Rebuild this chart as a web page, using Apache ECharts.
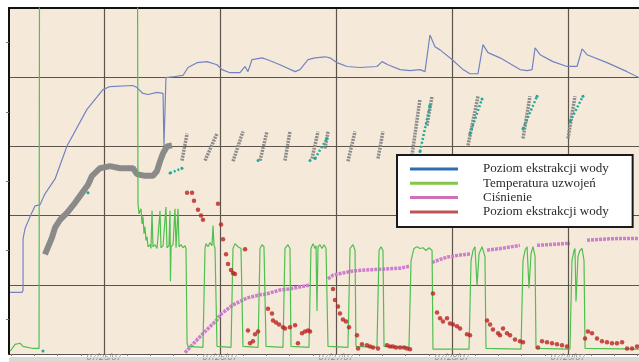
<!DOCTYPE html>
<html>
<head>
<meta charset="utf-8">
<script src="https://cdn.jsdelivr.net/npm/echarts@6.0.0/dist/echarts.min.js"></script>
<style>
  html, body { margin:0; padding:0; background:#ffffff; }
  #wrap { position:relative; width:639px; height:362px; overflow:hidden; }
  #band { position:absolute; left:9px; top:358px; width:630px; height:4px; background:#dcd9d3; }
  #strip { position:absolute; left:10px; top:356.5px; width:629px; height:1.5px; background:#dcd9d3; }
  #chart { position:absolute; left:0; top:0; width:639px; height:362px; }
</style>
</head>
<body>
<div id="wrap"><div id="band"></div><div id="chart"></div><div id="strip"></div></div>
<script>
// x values: days since 07/25/07 00:00; y values: % of axis range
const xTickDays = [0, 1, 2, 3, 4];
const xTickLabels = ['07/25/07', '07/26/07', '07/27/07', '07/28/07', '07/29/07'];
const xMinorTicks = [-0.8,-0.6,-0.4,-0.2,0.2,0.4,0.6,0.8,1.2,1.4,1.6,1.8,2.2,2.4,2.6,2.8,3.2,3.4,3.6,3.8,4.2,4.4,4.6];

const seriesNames = ['Poziom ekstrakcji wody', 'Temperatura uzwojeń', 'Ciśnienie', 'Poziom ekstrakcji wody '];

const blueLevel = [
  [-0.810,17.8],[-0.707,17.8],[-0.698,18.4],[-0.698,33.3],[-0.681,36.2],[-0.638,39.7],[-0.595,42.8],[-0.552,43.1],
  [-0.509,46.3],[-0.422,50.6],[-0.319,60.1],[-0.147,70.7],[-0.009,76.4],[0.052,77.3],[0.250,77.6],[0.284,77.0],
  [0.336,75.3],[0.379,75.0],[0.457,75.6],[0.509,75.3],[0.517,60.1],[0.534,79.9],[0.612,80.2],[0.681,80.5],
  [0.724,82.8],[0.802,84.2],[0.888,84.5],[0.974,83.6],[1.017,82.2],[1.086,81.3],[1.172,81.3],[1.216,83.1],
  [1.241,81.6],[1.276,85.1],[1.362,85.6],[1.405,85.1],[1.517,83.6],[1.647,81.6],[1.690,82.2],[1.759,85.1],
  [1.819,85.6],[1.905,85.9],[1.948,85.6],[2.009,84.2],[2.095,83.1],[2.207,82.8],[2.353,83.1],[2.397,84.5],
  [2.448,83.6],[2.552,82.2],[2.638,81.9],[2.724,82.2],[2.767,81.6],[2.810,92.2],[2.853,88.8],[2.897,87.9],
  [3.000,85.1],[3.095,82.2],[3.155,81.0],[3.224,81.0],[3.267,89.4],[3.310,87.1],[3.414,85.6],[3.586,82.2],
  [3.647,81.9],[3.690,82.2],[3.716,88.5],[3.759,86.5],[3.871,84.5],[3.991,83.1],[4.078,83.1],[4.121,88.2],
  [4.164,86.5],[4.336,84.2],[4.509,81.6],[4.612,79.9]
];

const greenTemp = [
  [-0.810,0.8],[-0.767,2.8],[-0.724,3.1],[-0.698,2.2],[-0.612,1.6],[-0.560,1.6],[-0.556,110],[0.289,110],
  [0.293,43.4],[0.302,40.5],[0.319,42.0],[0.328,37.6],[0.336,39.7],[0.345,34.8],[0.353,36.8],[0.362,32.8],
  [0.371,33.9],[0.379,31.0],[0.397,31.6],[0.405,30.5],[0.414,41.4],[0.422,31.0],[0.440,31.6],[0.457,30.5],
  [0.466,31.0],[0.483,41.4],[0.491,30.7],[0.509,31.3],[0.526,31.0],[0.534,42.5],[0.543,30.7],[0.560,31.3],
  [0.569,41.4],[0.573,21.0],[0.578,31.0],[0.595,31.6],[0.612,42.0],[0.621,30.7],[0.638,42.0],[0.647,31.0],
  [0.664,31.6],[0.681,30.7],[0.698,31.3],[0.707,30.5],[0.716,3.1],[0.724,2.2],[0.853,1.9],
  [0.871,30.5],[0.879,31.9],[0.897,31.0],[0.914,32.2],[0.931,31.3],[0.940,37.1],[0.948,31.6],[0.957,30.5],
  [0.974,2.2],[1.095,1.9],[1.112,30.5],[1.129,31.9],[1.155,31.0],[1.181,30.5],[1.198,2.2],[1.328,1.9],
  [1.345,30.5],[1.362,31.6],[1.379,31.0],[1.397,2.2],[1.543,1.9],[1.560,30.5],[1.586,31.6],[1.603,30.5],
  [1.612,2.2],[1.767,1.9],[1.784,30.5],[1.802,31.9],[1.819,30.5],[1.828,31.3],[1.836,12.4],[1.845,31.0],
  [1.862,31.6],[1.879,30.5],[1.897,31.6],[1.914,30.5],[1.931,2.2],[2.103,1.9],[2.121,30.5],[2.147,31.6],
  [2.164,29.9],[2.172,2.2],[2.353,1.9],[2.371,29.9],[2.388,31.0],[2.405,29.9],[2.414,2.2],[2.629,1.9],
  [2.647,27.0],[2.672,30.5],[2.698,31.0],[2.724,30.5],[2.750,30.7],[2.776,29.9],[2.802,30.7],[2.828,29.9],
  [2.836,1.4],[3.147,1.4],[3.164,27.0],[3.181,29.9],[3.198,31.0],[3.216,19.8],[3.233,29.0],[3.259,31.0],
  [3.284,28.2],[3.293,1.6],[3.595,1.4],[3.612,27.0],[3.629,29.9],[3.647,31.0],[3.664,19.0],[3.681,29.0],
  [3.698,31.0],[3.716,28.2],[3.724,1.6],[4.017,1.4],[4.034,27.0],[4.052,29.9],[4.060,30.5],[4.069,15.2],
  [4.086,28.2],[4.103,29.9],[4.121,30.5],[4.138,27.0],[4.147,1.6],[4.612,1.4]
];

const pinkPressure = [
  [0.698,0.4],[0.853,5.9],[0.974,9.9],[1.000,11.3],[1.112,14.2],[1.198,15.6],[1.233,16.2],[1.345,17.1],
  [1.405,17.4],[1.517,18.5],[1.603,18.8],[1.690,19.4],[1.776,19.9], null,
  [1.931,21.7],[1.974,22.8],[2.060,23.4],[2.147,24.0],[2.267,24.3],[2.405,24.5],[2.552,24.8],[2.638,25.4], null,
  [2.828,26.5],[2.957,28.0],[3.069,28.6],[3.155,28.9], null,
  [3.302,30.0],[3.440,30.6],[3.586,31.4], null,
  [3.733,31.4],[3.871,31.7],[4.017,32.0], null,
  [4.164,32.9],[4.302,33.2],[4.448,33.4],[4.612,33.4]
];

const redLevel = [
  [0.716,46.6],[0.759,46.6],[0.776,44.3],[0.810,41.7],[0.836,40.0],[0.853,38.8],[0.983,43.4],[1.009,37.4],
  [1.026,33.2],[1.052,28.8],[1.069,26.0],[1.095,24.3],[1.112,23.4],[1.129,23.1],[1.216,30.3],[1.241,6.8],
  [1.259,3.1],[1.284,3.7],[1.302,5.7],[1.328,6.5],[1.414,13.1],[1.448,11.7],[1.457,9.7],[1.483,9.1],
  [1.509,8.5],[1.543,7.7],[1.560,7.4],[1.603,7.7],[1.647,8.3],[1.672,3.1],[1.707,6.0],[1.733,6.5],
  [1.759,6.8],[1.776,6.5],[1.974,18.8],[1.991,15.6],[2.017,13.7],[2.034,11.7],[2.060,10.0],[2.086,9.4],
  [2.112,7.7],[2.181,5.4],[2.190,1.6],[2.224,2.8],[2.267,2.5],[2.293,2.2],[2.319,1.9],[2.362,1.6],
  [2.440,2.5],[2.466,2.2],[2.491,2.2],[2.517,1.9],[2.552,1.9],[2.586,1.9],[2.612,1.6],[2.638,1.4],
  [2.836,17.5],[2.871,12.0],[2.897,10.3],[2.922,9.4],[2.957,10.3],[2.983,8.8],[3.009,8.5],[3.043,8.0],
  [3.069,7.4],[3.129,5.7],[3.155,5.4],[3.302,9.7],[3.328,8.5],[3.353,7.1],[3.397,6.0],[3.414,5.4],
  [3.440,7.4],[3.474,6.0],[3.500,5.4],[3.543,4.2],[3.586,3.7],[3.612,3.4],[3.741,1.9],[3.776,3.7],
  [3.819,3.4],[3.862,3.1],[3.905,2.8],[3.948,2.5],[3.991,2.2],[4.147,4.5],[4.172,6.5],[4.207,6.0],
  [4.250,4.5],[4.293,3.7],[4.336,3.4],[4.379,3.1],[4.422,3.1],[4.466,3.4],[4.509,1.6],[4.552,1.6],[4.595,2.2]
];

const greyPoints = [
  [-0.509,28.8],[-0.483,30.9],[-0.448,33.7],[-0.422,36.5],[-0.379,38.8],[-0.319,40.8],[-0.250,43.7],[-0.207,45.7],
  [-0.138,48.9],[-0.103,51.5],[-0.034,53.7],[0.052,54.3],[0.138,53.7],[0.250,53.7],[0.284,52.0],[0.353,51.5],
  [0.422,51.5],[0.457,52.9],[0.483,55.7],[0.509,58.0],[0.543,60.0],[0.586,60.3]
];

const greyStreaks = [
  [0.672,55.9],[0.716,63.7], null,
  [0.871,55.9],[0.974,63.7], null,
  [1.112,55.7],[1.198,64.3], null,
  [1.345,55.9],[1.405,64.3], null,
  [1.560,55.9],[1.603,64.3], null,
  [1.793,56.5],[1.845,64.3], null,
  [1.905,59.4],[1.931,64.3], null,
  [2.103,55.7],[2.164,64.3], null,
  [2.362,56.5],[2.405,64.3], null,
  [2.655,57.4],[2.724,73.7], null,
  [2.784,66.0],[2.828,74.5], null,
  [3.138,60.3],[3.224,74.5], null,
  [3.612,62.3],[3.672,74.5], null,
  [4.000,62.3],[4.060,74.5]
];

const tealPoints = [
  [-0.526,0.9], null, [-0.138,46.6], null, [0.569,52.3],[0.672,53.7], null,
  [1.328,55.9], null, [1.776,55.9], null, [1.819,56.5],[1.922,62.3], null,
  [2.724,58.5],[2.810,71.8], null, [3.155,63.7],[3.259,73.7], null,
  [3.612,65.1],[3.733,74.5], null, [4.017,67.2],[4.129,74.5]
];

const legendColors = ['#2d6db5', '#86c44a', '#d070b8', '#b0282a'];

const gap = d => d.map(p => p === null ? ['-', '-'] : p);
const X_MIN = -0.819, X_MAX = 4.612;
const gridColor = '#5d554b';

const chart = echarts.init(document.getElementById('chart'), null, {renderer: 'canvas'});
chart.setOption({
  animation: false,
  backgroundColor: 'transparent',
  grid: { left: 9, top: 8, right: 0, bottom: 4, show: true, backgroundColor: '#f5eada', borderWidth: 0 },
  xAxis: [
    {
      type: 'value', min: X_MIN, max: X_MAX, position: 'bottom',
      axisLine: { show: false, onZero: false },
      axisTick: { show: true, customValues: xMinorTicks, length: 2, inside: false, lineStyle: { color: '#777', width: 1 } },
      axisLabel: { show: true, customValues: xTickDays, formatter: v => xTickLabels[Math.round(v)],
                   color: '#8e8e8e', fontStyle: 'italic', fontSize: 9, margin: -1, fontFamily: 'Liberation Sans' },
      splitLine: { show: false }
    },
    {
      type: 'value', min: X_MIN, max: X_MAX, position: 'top',
      axisLine: { show: true, onZero: false, lineStyle: { color: '#111', width: 2 } },
      axisTick: { show: false, customValues: xTickDays },
      axisLabel: { show: false },
      splitLine: { show: true, lineStyle: { color: gridColor, width: 1.2 } }
    }
  ],
  yAxis: {
    type: 'value', min: 0, max: 100, interval: 20,
    axisLine: { show: true, onZero: false, lineStyle: { color: '#111', width: 2 } },
    axisTick: { show: false },
    minorTick: { show: true, splitNumber: 2, length: 3, lineStyle: { color: '#777' } },
    axisLabel: { show: false },
    splitLine: { show: true, lineStyle: { color: gridColor, width: 1.2 } }
  },
  legend: {
    orient: 'vertical', left: 397, top: 155,
    padding: [7, 24, 8, 13], itemGap: 0.3, itemWidth: 48, itemHeight: 3, icon: 'rect',
    backgroundColor: '#ffffff', borderColor: '#1a1a1a', borderWidth: 2,
    selectedMode: false,
    textStyle: { fontFamily: 'Liberation Serif', fontSize: 13, color: '#2b2b2b', lineHeight: 14, padding: [0, 0, 0, 20] },
    formatter: n => n.trim(),
    data: seriesNames.map((n, i) => ({ name: n, itemStyle: { color: legendColors[i] } }))
  },
  series: [
    { name: 'grey', type: 'line', data: greyPoints, symbol: 'none', z: 2,
      lineStyle: { color: '#8a8a8a', width: 6 } },
    { name: 'greyStreaks', type: 'line', data: gap(greyStreaks), symbol: 'none', z: 2,
      lineStyle: { color: '#8c8c8c', width: 3.5, type: [2, 1] } },
    { name: 'teal', type: 'line', data: gap(tealPoints), symbol: 'circle', symbolSize: 3, showSymbol: true, z: 3,
      itemStyle: { color: '#22a89a' }, lineStyle: { color: '#22a89a', width: 2.5, type: [2, 2] } },
    { name: seriesNames[2], type: 'line', data: gap(pinkPressure), symbol: 'none', z: 3,
      itemStyle: { color: '#cf7ecf' }, lineStyle: { color: '#cf7ecf', width: 3.5, type: [3, 1] } },
    { name: seriesNames[0], type: 'line', data: blueLevel, symbol: 'none', z: 4,
      itemStyle: { color: '#7283c4' }, lineStyle: { color: '#7283c4', width: 1.2 } },
    { name: seriesNames[1], type: 'line', data: greenTemp, symbol: 'none', z: 5,
      itemStyle: { color: '#4fbf4f' }, lineStyle: { color: '#4fbf4f', width: 1.2 } },
    { name: seriesNames[3], type: 'scatter', data: redLevel, symbol: 'circle', symbolSize: 4.5, z: 6,
      itemStyle: { color: '#bb2222' } }
  ]
});
</script>
</body>
</html>
